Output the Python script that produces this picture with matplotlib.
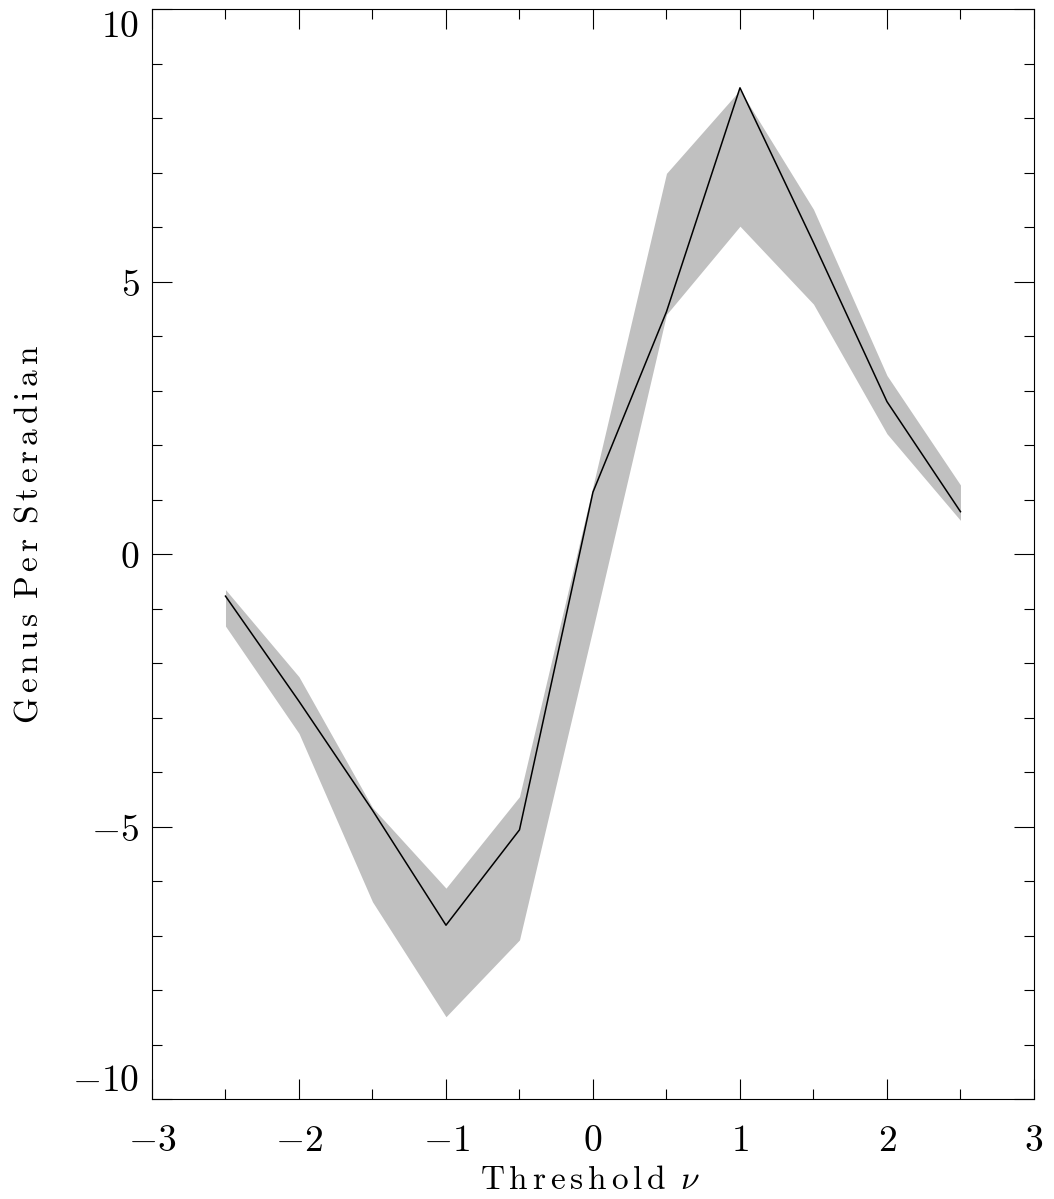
import matplotlib.pyplot as plt
from matplotlib.ticker import MultipleLocator, FuncFormatter

plt.rcParams['mathtext.fontset'] = 'cm'

nu = [-2.5, -2, -1.5, -1, -0.5, 0, 0.5, 1, 1.5, 2, 2.5]
genus = [-0.77, -2.70, -4.70, -6.81, -5.06, 1.14, 4.45, 8.56, 5.72, 2.80, 0.78]
upper = [-0.65, -2.25, -4.65, -6.13, -4.45, 1.25, 6.99, 8.52, 6.33, 3.28, 1.27]
lower = [-1.32, -3.29, -6.38, -8.49, -7.08, -1.37, 4.40, 6.02, 4.59, 2.21, 0.62]


def spaced(s):
    # wide letter spacing like the original plot labels
    words = [r'\,'.join(w) for w in s.split(' ')]
    return r'\ \,'.join(words)


fig = plt.figure(figsize=(10.54, 11.99), dpi=100)
ax = fig.add_axes([0.1442, 0.0834, 0.8368, 0.9088])

ax.fill_between(nu, lower, upper, color='#c0c0c0', linewidth=0)
ax.plot(nu, genus, color='black', linewidth=1.1)

ax.set_xlim(-3, 3)
ax.set_ylim(-10, 10)
ax.xaxis.set_major_locator(MultipleLocator(1))
ax.xaxis.set_minor_locator(MultipleLocator(0.5))
ax.yaxis.set_major_locator(MultipleLocator(5))
ax.yaxis.set_minor_locator(MultipleLocator(1))
fmt = FuncFormatter(lambda v, p: '$%d$' % round(v))
ax.xaxis.set_major_formatter(fmt)
ax.yaxis.set_major_formatter(fmt)

ax.tick_params(which='both', direction='in', top=True, right=True, width=0.8)
ax.tick_params(which='major', length=14.5, labelsize=27)
ax.tick_params(which='minor', length=7.2)
ax.tick_params(axis='x', which='major', pad=17)
ax.tick_params(axis='y', which='major', pad=9)
for sp in ax.spines.values():
    sp.set_linewidth(0.8)

# end labels on the y axis sit inside the axis range
locs = ax.yaxis.get_majorticklocs()
for loc, t in zip(locs, ax.yaxis.get_major_ticks(len(locs))):
    if loc >= 10:
        t.label1.set_va('top')
    elif loc <= -10:
        t.label1.set_va('bottom')

ax.set_xlabel('$\\mathrm{' + spaced('Threshold') + r'}\ \,\nu$', fontsize=24)
ax.set_ylabel('$\\mathrm{' + spaced('Genus Per Steradian') + '}$', fontsize=24)
ax.xaxis.set_label_coords(0.4966, -0.0735)
ax.xaxis.label.set_va('center')
ax.yaxis.set_label_coords(-0.1406, 0.518)
ax.yaxis.label.set_va('center')

fig.savefig('out.png', dpi=100)
